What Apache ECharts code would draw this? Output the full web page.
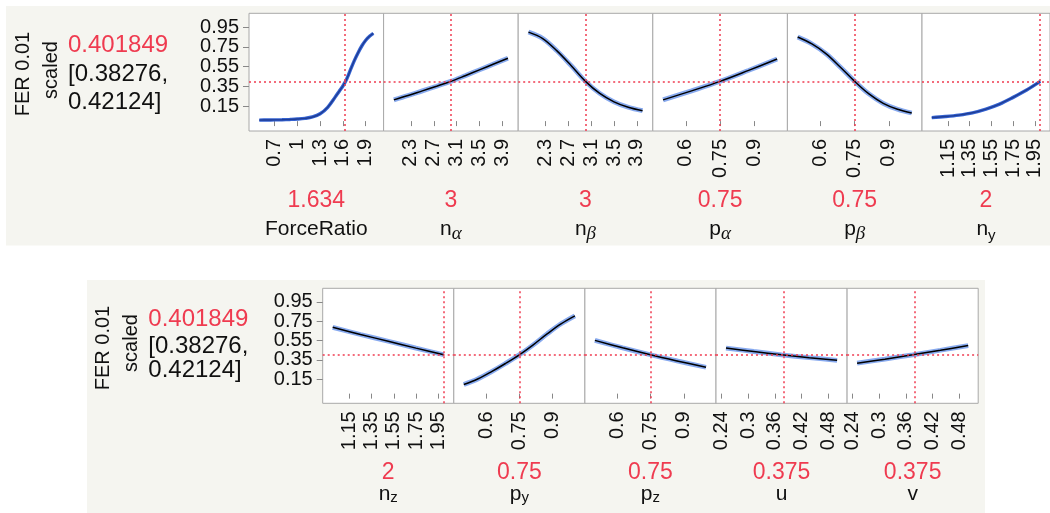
<!DOCTYPE html>
<html><head><meta charset="utf-8">
<script src="https://cdn.jsdelivr.net/npm/echarts@6/dist/echarts.min.js"></script>
<style>html,body{margin:0;padding:0;background:#fff}#c{width:1050px;height:513px}</style>
</head><body><div id="c"></div>
<script>
// ---------- data ----------
const responseName = ['FER 0.01', 'scaled'];
const predictedValue = 0.401849;
const predictedLabel = '0.401849';
const ciLabels = ['[0.38276,', '0.42124]'];

const factorMain = ['ForceRatio','n','n','p','p','n','n','p','p','u','v'];
const factorSub  = ['','α','β','α','β','y','z','y','z','',''];
const currentValues = [1.634, 3, 3, 0.75, 0.75, 2, 2, 0.75, 0.75, 0.375, 0.375];
const currentLabels = ['1.634','3','3','0.75','0.75','2','2','0.75','0.75','0.375','0.375'];

const yTicks = [0.15, 0.35, 0.55, 0.75, 0.95];
const forceRatioTicks = [0.7, 1, 1.3, 1.6, 1.9];
const nTicks = [2.3, 2.7, 3.1, 3.5, 3.9];
const pTicks = [0.6, 0.75, 0.9];
const nyzTicks = [1.15, 1.35, 1.55, 1.75, 1.95];
const uvTicks = [0.24, 0.3, 0.36, 0.42, 0.48];

const forceRatioX = [0.5,0.6,0.7,0.8,0.9,1.0,1.1,1.2,1.3,1.4,1.5,1.55,1.6,1.65,1.7,1.75,1.8,1.85,1.9,1.95,2.0];
const forceRatioY = [0.010,0.011,0.012,0.014,0.017,0.021,0.028,0.042,0.074,0.14,0.245,0.30,0.355,0.425,0.52,0.612,0.692,0.762,0.818,0.858,0.888];
const nAlphaX = [2,2.25,2.5,2.75,3,3.25,3.5,3.75,4];
const nAlphaY = [0.215,0.259,0.306,0.353,0.402,0.459,0.518,0.577,0.635];
const nBetaX  = [2,2.25,2.5,2.75,3,3.25,3.5,3.75,4];
const nBetaY  = [0.90,0.835,0.71,0.56,0.402,0.28,0.195,0.14,0.105];
const pAlphaX = [0.5,0.625,0.75,0.875,1.0];
const pAlphaY = [0.215,0.306,0.402,0.513,0.628];
const pBetaX  = [0.5,0.5625,0.625,0.6875,0.75,0.8125,0.875,0.9375,1.0];
const pBetaY  = [0.85,0.78,0.68,0.545,0.402,0.275,0.18,0.12,0.082];
const nyX = [1,1.125,1.25,1.375,1.5,1.625,1.75,1.875,2];
const nyY = [0.035,0.046,0.061,0.084,0.122,0.172,0.24,0.315,0.402];
const nzX = [1,1.25,1.5,1.75,2];
const nzY = [0.686,0.612,0.542,0.471,0.402];
const pyX = [0.5,0.5625,0.625,0.6875,0.75,0.8125,0.875,0.9375,1.0];
const pyY = [0.095,0.152,0.228,0.312,0.402,0.505,0.618,0.722,0.805];
const pzX = [0.5,0.625,0.75,0.875,1.0];
const pzY = [0.551,0.474,0.402,0.336,0.273];
const uX = [0.25,0.3125,0.375,0.4375,0.5];
const uY = [0.472,0.436,0.402,0.372,0.345];
const vX = [0.25,0.3125,0.375,0.4375,0.5];
const vY = [0.315,0.357,0.402,0.449,0.498];

// ---------- assembly ----------
const curvesX = [forceRatioX,nAlphaX,nBetaX,pAlphaX,pBetaX,nyX,nzX,pyX,pzX,uX,vX];
const curvesY = [forceRatioY,nAlphaY,nBetaY,pAlphaY,pBetaY,nyY,nzY,pyY,pzY,uY,vY];
const ticksX  = [forceRatioTicks,nTicks,nTicks,pTicks,pTicks,nyzTicks,nyzTicks,pTicks,pTicks,uvTicks,uvTicks];
const blueCurve = [true,false,false,false,false,true,false,false,false,false,false];
const yTicksEven = yTicks.filter((_, k) => k % 2 === 0);
const yTicksOdd = yTicks.filter((_, k) => k % 2 === 1);

const FONT = '"Liberation Sans", Arial, Helvetica, sans-serif';
const RED = '#ef3b50';
const INK = '#111';
const BORDER = '#a8a8a8';

function yAxisFor(gi, show, ticks) {
  return {
    type: 'value', gridIndex: gi, min: -0.1, max: 1.09, position: 'left', offset: 0,
    axisLine: { show: false },
    axisTick: { show: show, length: 6, lineStyle: { color: '#888' }, customValues: ticks },
    axisLabel: { show: show, fontSize: 20, color: INK, margin: 10, fontFamily: FONT, customValues: ticks,
      showMinLabel: true, showMaxLabel: true },
    splitLine: { show: false }
  };
}

const grids = [], xAxes = [], yAxes = [], series = [];
for (let i = 0; i < factorMain.length; i++) {
  const top = i < 6;
  const col = top ? i : i - 6;
  const pw = top ? 134.6 : 131.1;
  const left = top ? 249 + col * pw : 322.7 + col * pw;
  grids.push({ left: left, top: top ? 13.3 : 288.3, width: pw, height: top ? 117.7 : 115,
    show: true, backgroundColor: '#fff', borderColor: BORDER, borderWidth: 1 });
  const xs = curvesX[i];
  const lo = xs[0], hi = xs[xs.length - 1], pad = (hi - lo) * 0.09;
  const lh = top ? 28 : 22;
  const sub = factorSub[i];
  const greek = sub === 'α' || sub === 'β';
  let nm = '{n|' + factorMain[i] + '}';
  if (sub) nm += greek ? '{g|' + sub + '}' : '{s|' + sub + '}';
  xAxes.push({
    type: 'value', gridIndex: i, min: lo - pad, max: hi + pad,
    axisLine: { show: false },
    axisTick: { show: true, length: 5, lineStyle: { color: '#888' }, customValues: ticksX[i] },
    axisLabel: { rotate: 90, fontSize: 20, color: INK, margin: 8, fontFamily: FONT, customValues: ticksX[i],
      showMinLabel: true, showMaxLabel: true },
    splitLine: { show: false },
    name: '{v|' + currentLabels[i] + '}\n' + nm,
    nameLocation: 'middle', nameGap: top ? 56 : 58, nameMoveOverlap: false,
    nameTextStyle: { fontFamily: FONT, rich: {
      v: { fontSize: 23, color: RED, lineHeight: lh, fontFamily: FONT },
      n: { fontSize: 21, color: INK, lineHeight: lh, fontFamily: FONT },
      s: { fontSize: 15, color: INK, lineHeight: 6, verticalAlign: 'bottom', fontFamily: FONT },
      g: { fontSize: 19, color: INK, lineHeight: 6, verticalAlign: 'bottom', fontStyle: 'italic', fontFamily: '"Liberation Serif", "DejaVu Serif", serif' }
    } }
  });
  const first = col === 0;
  const yIndex = yAxes.length;
  if (first) {
    yAxes.push(yAxisFor(i, true, yTicksEven));
    yAxes.push(yAxisFor(i, true, yTicksOdd));
  } else {
    yAxes.push(yAxisFor(i, false, yTicks));
  }
  const data = xs.map((x, k) => [x, curvesY[i][k]]);
  series.push({
    type: 'line', xAxisIndex: i, yAxisIndex: yIndex, data: data, showSymbol: false, smooth: 0.35, silent: true, z: 2,
    lineStyle: { width: blueCurve[i] ? 3.4 : 4.8, color: blueCurve[i] ? '#3563d2' : '#88aaef' }
  });
  series.push({
    type: 'line', xAxisIndex: i, yAxisIndex: yIndex, data: data, showSymbol: false, smooth: 0.35, silent: true, z: 3,
    lineStyle: { width: blueCurve[i] ? 1.4 : 1.5, color: blueCurve[i] ? '#1f3d95' : '#000' },
    markLine: { symbol: ['none', 'none'], silent: true, label: { show: false },
      lineStyle: { color: RED, type: [2, 3], width: 1.5 },
      data: [{ xAxis: currentValues[i] }, { yAxis: predictedValue }] }
  });
}

function txt(x, y, text, opts) {
  return Object.assign({ type: 'text', x: x, y: y, z: 10,
    style: Object.assign({ text: text, fill: INK, fontSize: 20, fontFamily: FONT,
      textAlign: 'left', align: 'left', textVerticalAlign: 'middle', verticalAlign: 'middle' }, opts.style || {}) },
    opts.rotation ? { rotation: opts.rotation } : {});
}
const ctr = { textAlign: 'center', align: 'center' };
const graphic = [
  { type: 'rect', shape: { x: 6, y: 6, width: 1050, height: 239.5 }, style: { fill: '#f5f5f0' }, z: -10 },
  { type: 'rect', shape: { x: 87, y: 280, width: 898, height: 240 }, style: { fill: '#f5f5f0' }, z: -10 },
  txt(23.5, 74, responseName[0], { rotation: Math.PI / 2, style: ctr }),
  txt(51.5, 70, responseName[1], { rotation: Math.PI / 2, style: ctr }),
  txt(68, 45, predictedLabel, { style: { fill: RED, fontSize: 24 } }),
  txt(68, 74.5, ciLabels[0], { style: { fontSize: 24 } }),
  txt(68, 102.5, ciLabels[1], { style: { fontSize: 24 } }),
  txt(103.3, 348, responseName[0], { rotation: Math.PI / 2, style: ctr }),
  txt(131.7, 343, responseName[1], { rotation: Math.PI / 2, style: ctr }),
  txt(148.3, 319, predictedLabel, { style: { fill: RED, fontSize: 24 } }),
  txt(148.3, 346.5, ciLabels[0], { style: { fontSize: 24 } }),
  txt(148.3, 370.5, ciLabels[1], { style: { fontSize: 24 } })
];

const chart = echarts.init(document.getElementById('c'), null, { renderer: 'canvas' });
chart.setOption({ animation: false, backgroundColor: '#fff', graphic: graphic,
  grid: grids, xAxis: xAxes, yAxis: yAxes, series: series });
</script></body></html>
